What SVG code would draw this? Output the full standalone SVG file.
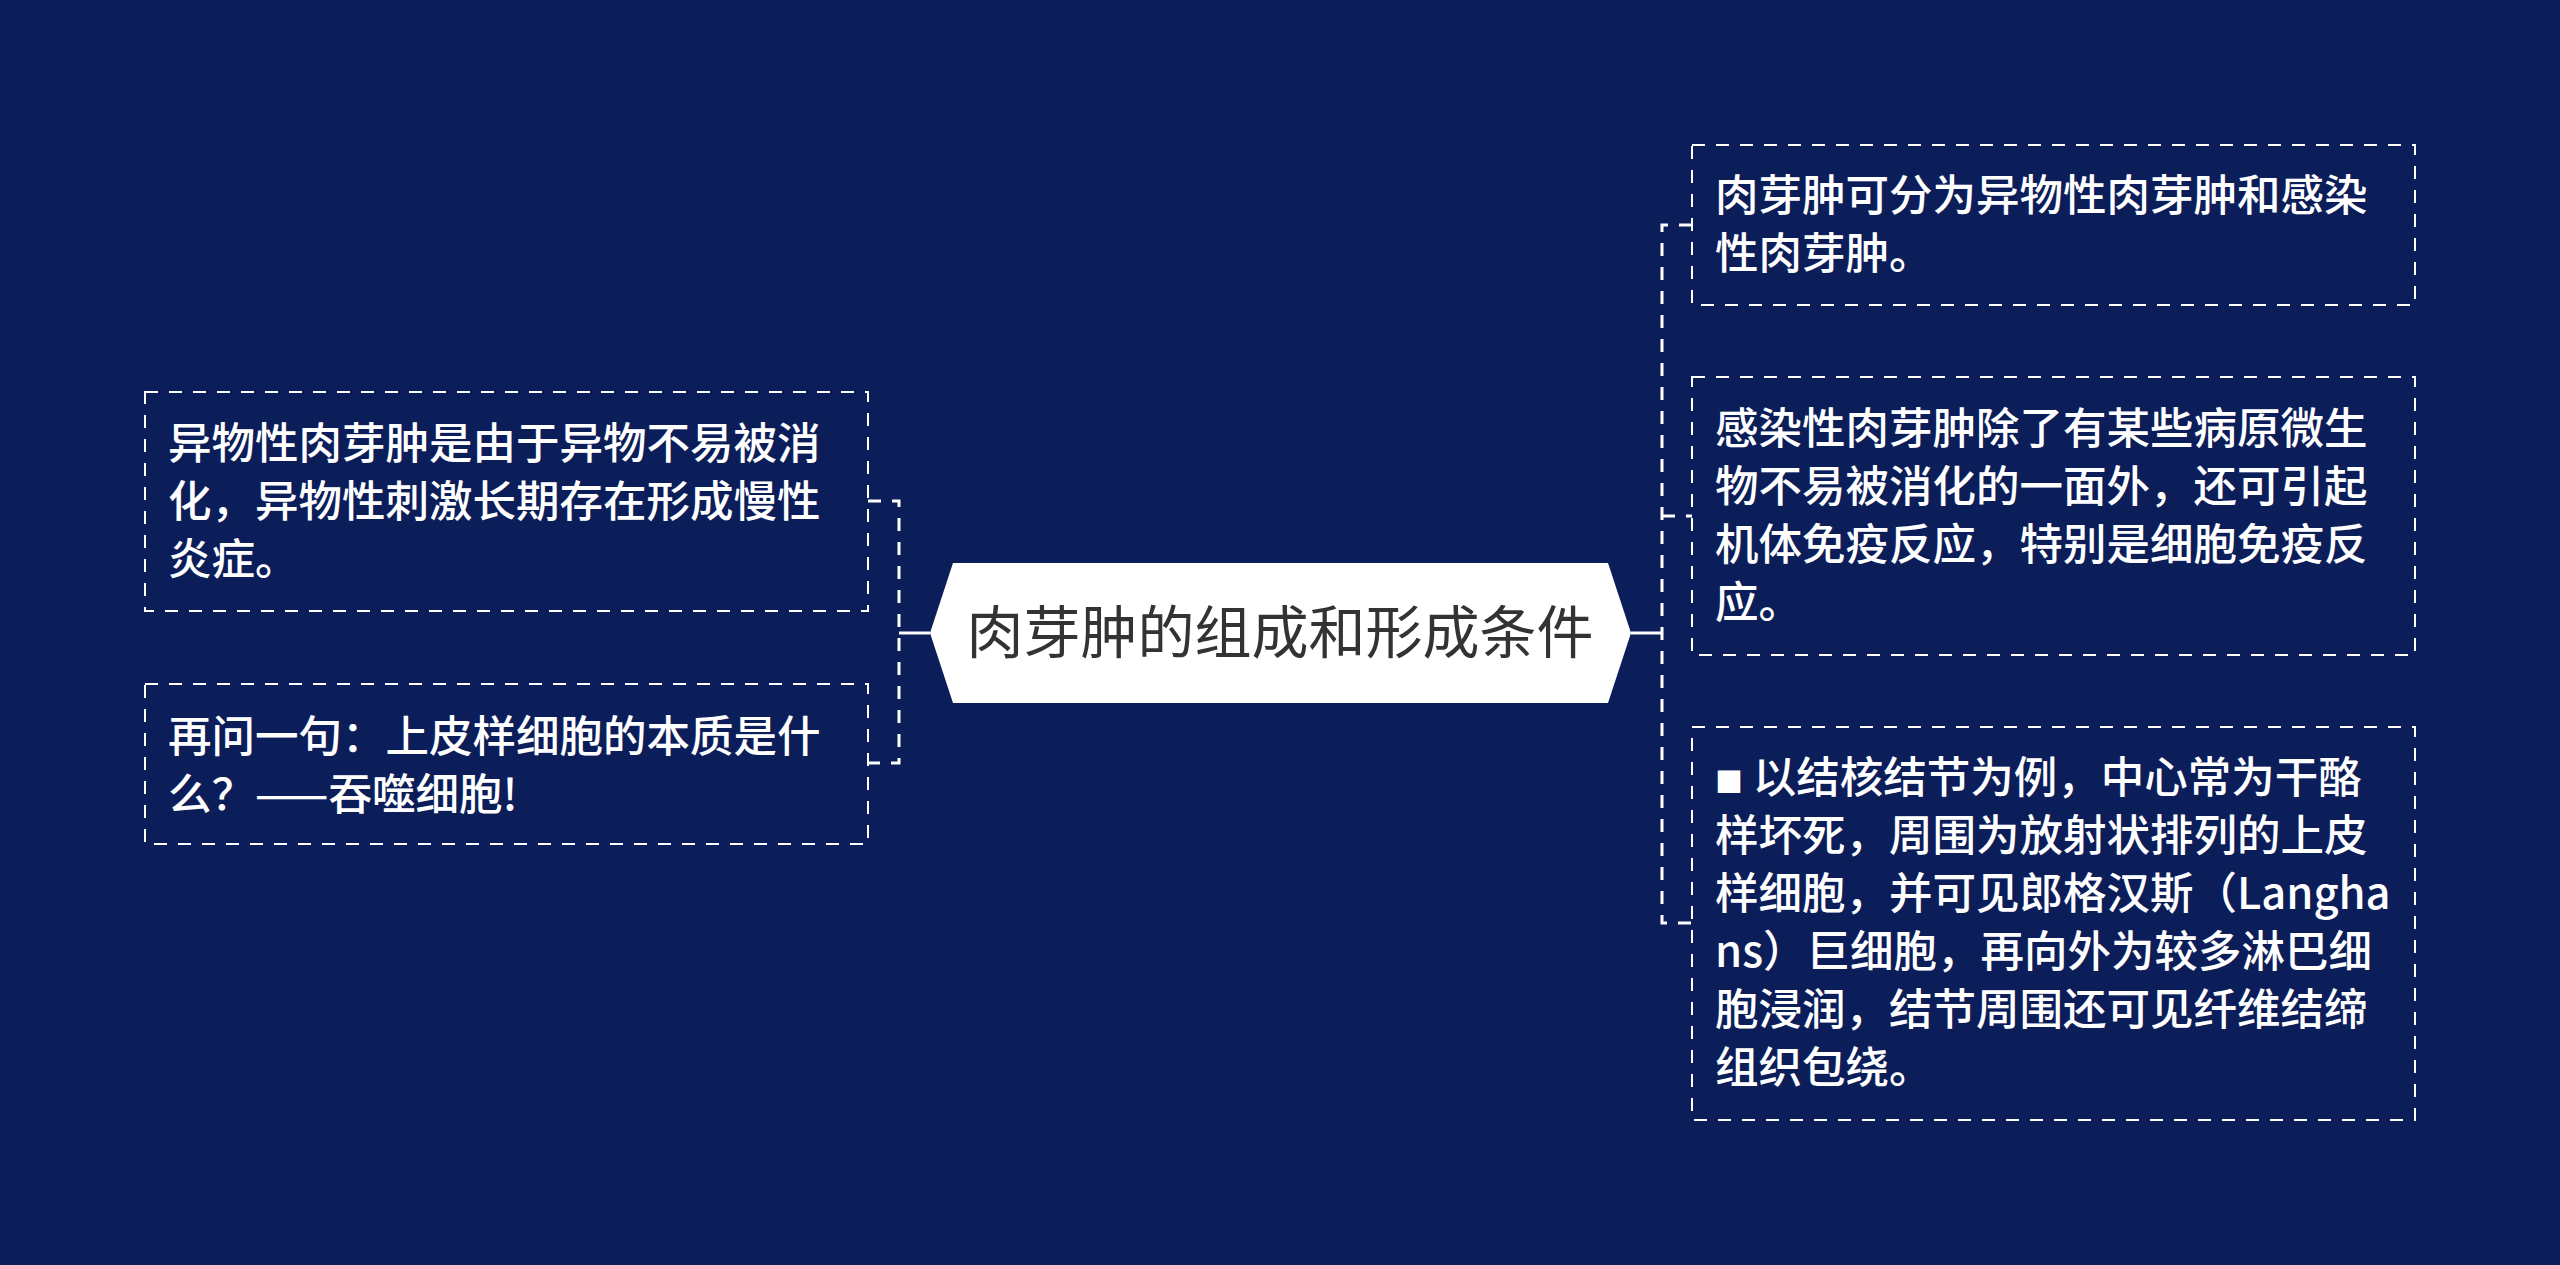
<svg xmlns="http://www.w3.org/2000/svg" width="2560" height="1265" viewBox="0 0 2560 1265">
<style>
.bg{fill:#0c1e5a}
.box{fill:none;stroke:#ffffff;stroke-width:2;stroke-dasharray:13 11}
.t{fill:#ffffff;font-family:"Noto Sans CJK SC","Noto Sans",sans-serif;font-size:43.5px;font-weight:500}
.sq{font-size:28px}
.title{fill:#333333;font-family:"Noto Sans CJK SC","Noto Sans",sans-serif;font-size:57px}
.solid{fill:none;stroke:#ffffff;stroke-width:3}
.dash{fill:none;stroke:#ffffff;stroke-width:3;stroke-dasharray:13 11}
</style>
<rect class="bg" x="0" y="0" width="2560" height="1265"/>
<g id="connectors">
<path class="solid" d="M930,633 H899"/>
<path class="dash" d="M868,501 H899 V763 H868"/>
<path class="solid" d="M1631,633 H1662"/>
<path class="dash" d="M1692,225 H1662 V923 H1692"/>
<path class="dash" d="M1662,516 H1692"/>
</g>
<g id="root">
<polygon points="953,563 1608,563 1631,633 1608,703 953,703 930,633" fill="#ffffff"/>
<text class="title" x="1280" y="653" text-anchor="middle">肉芽肿的组成和形成条件</text>
</g>
<g id="left1">
<rect class="box" x="145" y="392" width="723" height="219"/>
<text class="t"><tspan x="168" y="459">异物性肉芽肿是由于异物不易被消</tspan><tspan x="168" y="517">化，异物性刺激长期存在形成慢性</tspan><tspan x="168" y="575">炎症。</tspan></text>
</g>
<g id="left2">
<rect class="box" x="145" y="684" width="723" height="160"/>
<text class="t"><tspan x="168" y="752">再问一句：上皮样细胞的本质是什</tspan><tspan x="168" y="810">么？——吞噬细胞!</tspan></text>
</g>
<g id="right1">
<rect class="box" x="1692" y="145" width="723" height="160"/>
<text class="t"><tspan x="1715" y="211">肉芽肿可分为异物性肉芽肿和感染</tspan><tspan x="1715" y="269">性肉芽肿。</tspan></text>
</g>
<g id="right2">
<rect class="box" x="1692" y="377" width="723" height="278"/>
<text class="t"><tspan x="1715" y="444">感染性肉芽肿除了有某些病原微生</tspan><tspan x="1715" y="502">物不易被消化的一面外，还可引起</tspan><tspan x="1715" y="560">机体免疫反应，特别是细胞免疫反</tspan><tspan x="1715" y="618">应。</tspan></text>
</g>
<g id="right3">
<rect class="box" x="1692" y="727" width="723" height="393"/>
<text class="t"><tspan x="1715" y="793"><tspan class="sq">■</tspan> 以结核结节为例，中心常为干酪</tspan><tspan x="1715" y="851">样坏死，周围为放射状排列的上皮</tspan><tspan x="1715" y="909">样细胞，并可见郎格汉斯（Langha</tspan><tspan x="1715" y="967">ns）巨细胞，再向外为较多淋巴细</tspan><tspan x="1715" y="1025">胞浸润，结节周围还可见纤维结缔</tspan><tspan x="1715" y="1083">组织包绕。</tspan></text>
</g>
</svg>
